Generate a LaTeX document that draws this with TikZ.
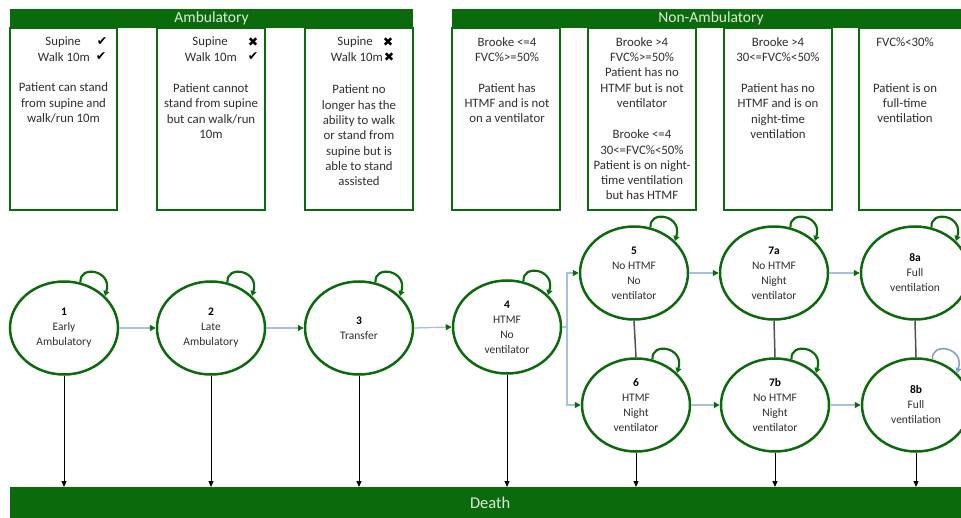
\documentclass[tikz,border=0pt]{standalone}
\usepackage{fontspec}
\setmainfont{Carlito}
\newfontfamily\symfont{DejaVu Sans}
\usetikzlibrary{arrows.meta,shapes.geometric}
\definecolor{dgreen}{HTML}{0B6A0B}
\definecolor{hdrtxt}{HTML}{DCEEDC}
\definecolor{txtgray}{HTML}{2E2E2E}
\definecolor{lblue}{HTML}{A8BFE0}
\definecolor{loopblue}{HTML}{7FA3D0}
\definecolor{vgray}{HTML}{505050}
\begin{document}
\begin{tikzpicture}[x=1pt,y=-1pt,
  boxtxt/.style={font=\fontsize{12.8}{15.3}\selectfont, text=txtgray, align=center, inner sep=0pt},
  lbl/.style={font=\fontsize{12.8}{15.3}\selectfont, text=txtgray, inner sep=0pt},
  chk/.style={font=\symfont\fontsize{12.5}{14}\selectfont, text=black, inner sep=0pt},
  st/.style={ellipse, draw=dgreen, line width=2.5pt, minimum width=108pt, minimum height=93pt, inner sep=0pt, align=center, font=\fontsize{11.5}{15}\selectfont, text=txtgray},
  hconn/.style={draw=lblue, line width=1.3pt, -{Triangle[length=6pt,width=6pt,color=dgreen]}},
  vconn/.style={draw=vgray, line width=1.5pt},
  dconn/.style={draw=black, line width=1pt, -{Triangle[length=6pt,width=5pt]}},
  selfloop/.style={draw=dgreen, line width=2.2pt, -{Triangle[length=5pt,width=6pt]}},
  bluloop/.style={draw=loopblue, line width=1.6pt, -{Triangle[length=5pt,width=6pt]}},
  catbox/.style={draw=dgreen, line width=1.5pt},
  hdr/.style={fill=dgreen, inner sep=0pt, text=hdrtxt}
]
\useasboundingbox (0,0) rectangle (961,518);
\clip (0,0) rectangle (961,518);

% headers
\node[hdr, minimum width=403pt, minimum height=19pt, font=\fontsize{15.5}{17}\selectfont] (hamb) at (211.5,18.5) {Ambulatory};
\node[hdr, minimum width=518pt, minimum height=19pt, font=\fontsize{15.5}{17}\selectfont] (hnon) at (711,18.5) {Non-Ambulatory};

% category boxes
\draw[catbox] (10,28) rectangle (117,210);
\draw[catbox] (157,28) rectangle (265,210);
\draw[catbox] (305,28) rectangle (413,210);
\draw[catbox] (452,28) rectangle (560,210);
\draw[catbox] (588,28) rectangle (696,210);
\draw[catbox] (724,28) rectangle (832,210);
\draw[catbox] (859,28) rectangle (967,210);

% box 1
\node[lbl, anchor=east] (s1) at (81,42) {Supine};
\node[chk] (s1m) at (102,42) {✔};
\node[lbl, anchor=east] (w1) at (90,57) {Walk 10m};
\node[chk] (w1m) at (101,57) {✔};
\node[boxtxt] (p1) at (63.5,103) {Patient can stand\\from supine and\\walk/run 10m};
% box 2
\node[lbl, anchor=east] (s2) at (228,42) {Supine};
\node[chk] (s2m) at (253,42) {✖};
\node[lbl, anchor=east] (w2) at (237,57) {Walk 10m};
\node[chk] (w2m) at (253,57) {✔};
\node[boxtxt] (p2) at (211,111) {Patient cannot\\stand from supine\\but can walk/run\\10m};
% box 3
\node[lbl, anchor=east] (s3) at (373,42) {Supine};
\node[chk] (s3m) at (388,42) {✖};
\node[lbl, anchor=east] (w3) at (383,57) {Walk 10m};
\node[chk] (w3m) at (389,57) {✖};
\node[boxtxt] (p3) at (359,135.5) {Patient no\\longer has the\\ability to walk\\or stand from\\supine but is\\able to stand\\assisted};
% box 4
\node[boxtxt] (b4a) at (507,49.5) {Brooke <=4\\FVC\%>=50\%};
\node[boxtxt] (b4b) at (507,103) {Patient has\\HTMF and is not\\on a ventilator};
% box 5
\node[boxtxt] (b5a) at (642,72.5) {Brooke >4\\FVC\%>=50\%\\Patient has no\\HTMF but is not\\ventilator};
\node[boxtxt] (b5b) at (642,165) {Brooke <=4\\30<=FVC\%<50\%\\Patient is on night-\\time ventilation\\but has HTMF};
% box 6
\node[boxtxt] (b6a) at (778,49.5) {Brooke >4\\30<=FVC\%<50\%};
\node[boxtxt] (b6b) at (778,111) {Patient has no\\HTMF and is on\\night-time\\ventilation};
% box 7
\node[boxtxt] (b7a) at (905,42) {FVC\%<30\%};
\node[boxtxt] (b7b) at (905,103) {Patient is on\\full-time\\ventilation};

% states
\node[st] (c1) at (64,328) {\textbf{\textcolor{black}{1}}\\Early\\Ambulatory};
\node[st] (c2) at (211,328) {\textbf{\textcolor{black}{2}}\\Late\\Ambulatory};
\node[st] (c3) at (359,328) {\textbf{\textcolor{black}{3}}\\Transfer};
\node[st] (c4) at (507,327) {\textbf{\textcolor{black}{4}}\\HTMF\\No\\ventilator};
\node[st] (c5) at (634,273) {\textbf{\textcolor{black}{5}}\\No HTMF\\No\\ventilator};
\node[st] (c6) at (636,405) {\textbf{\textcolor{black}{6}}\\HTMF\\Night\\ventilator};
\node[st] (c7a) at (774,273) {\textbf{\textcolor{black}{7a}}\\No HTMF\\Night\\ventilator};
\node[st] (c7b) at (775,405) {\textbf{\textcolor{black}{7b}}\\No HTMF\\Night\\ventilator};
\node[st] (c8a) at (915,273) {\textbf{\textcolor{black}{8a}}\\Full\\ventilation};
\node[st] (c8b) at (916,405) {\textbf{\textcolor{black}{8b}}\\Full\\ventilation};

% death bar
\node[hdr, minimum width=960pt, minimum height=32pt, anchor=north west, font=\fontsize{16.5}{18}\selectfont] (death) at (10,487) {Death};

% horizontal transitions
\coordinate (br) at (567,327);
\draw[hconn] (c1.east) -- (c2.west);
\draw[hconn] (c2.east) -- (c3.west);
\draw[hconn] (c3.east) -- (c4.west);
\draw[hconn] (c4.east) -- (br) |- (c5.west);
\draw[hconn] (br) |- (c6.west);
\draw[hconn] (c5.east) -- (c7a.west);
\draw[hconn] (c6.east) -- (c7b.west);
\draw[hconn] (c7a.east) -- (c8a.west);
\draw[hconn] (c7b.east) -- (c8b.west);

% vertical links
\draw[vconn] (c5.south) -- (c6.north);
\draw[vconn] (c7a.south) -- (c7b.north);
\draw[vconn] (c8a.south) -- (c8b.north);

% to death
\foreach \n in {c1,c2,c3,c4,c6,c7b,c8b}
  \draw[dconn] (\n.south) -- (\n.south |- death.north);

% self loops
\foreach \n in {c1,c2,c3,c4,c5,c6,c7a,c7b,c8a}
  \draw[selfloop] (\n.70) .. controls +(-2,-18) and +(8,-26) .. (\n.38);
\draw[bluloop] (c8b.70) .. controls +(-2,-18) and +(8,-26) .. (c8b.38);
\end{tikzpicture}
\end{document}
